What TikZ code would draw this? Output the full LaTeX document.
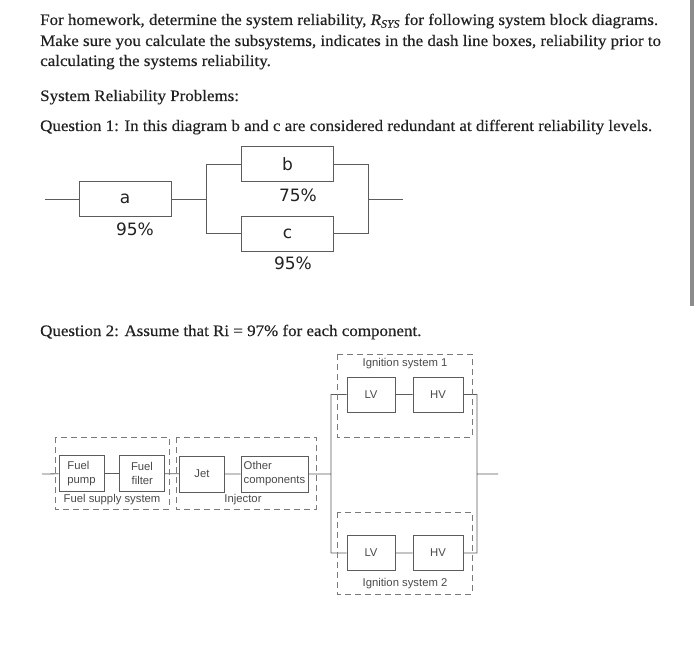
\documentclass[tikz,border=0pt]{standalone}
\usepackage{fontspec}
\setmainfont[FakeStretch=1.06,FakeBold=0.35]{Liberation Serif}
\newfontfamily\diagfont{DejaVu Sans}
\newfontfamily\blockfont{Liberation Sans}
\usetikzlibrary{positioning}
\definecolor{linegray}{HTML}{5C5C5C}
\definecolor{dashgray}{HTML}{7A7A7A}
\definecolor{inkgray}{HTML}{222222}
\definecolor{tagink}{HTML}{4A4A4A}

\begin{document}
\begin{tikzpicture}[x=1pt,y=-1pt,
        txt/.style={anchor=base west,inner sep=0pt,text=inkgray,font=\fontsize{16}{19}\selectfont},
        blk/.style={draw=linegray,line width=0.8pt,minimum width=92pt,minimum height=35pt,inner sep=0pt,
          text=inkgray,font=\diagfont\fontsize{17}{20}\selectfont},
        pct/.style={inner sep=0pt,text=inkgray,font=\diagfont\fontsize{17}{20}\selectfont},
        part/.style={draw=linegray,line width=0.8pt,minimum width=45pt,minimum height=36pt,inner sep=1pt,
          text=tagink,font=\blockfont\fontsize{11.3}{14}\selectfont},
        grp/.style={draw=dashgray,line width=0.9pt,dash pattern=on 6pt off 4pt},
        tag/.style={inner sep=0pt,text=tagink,font=\blockfont\fontsize{11.3}{14}\selectfont},
        wire/.style={draw=linegray,line width=0.8pt}]
      \useasboundingbox (0,0) rectangle (700,644);
      \fill[white] (0,0) rectangle (700,644);
      % scroll bar
      \fill[gray!90] (690,0) rectangle (694,306);

      % text of the task
      \node[txt] (l1) at (40,25) {For homework, determine the system reliability, \textit{R\textsubscript{SYS}} for following system block diagrams.};
      \node[txt] (l2) at (40,46) {Make sure you calculate the subsystems, indicates in the dash line boxes, reliability prior to};
      \node[txt] (l3) at (40,66) {calculating the systems reliability.};
      \node[txt] (l4) at (40,101) {System Reliability Problems:};
      \node[txt] (q1) at (40,131) {Question 1: In this diagram b and c are considered redundant at different reliability levels.};
      \node[txt] (q2) at (40,336) {Question 2: Assume that Ri = 97\% for each component.};

      % question 1
      \node[blk] (a) at (125,199) {a};
      \node[blk] (b) at (287.5,164) {b};
      \node[blk] (c) at (287.5,233.5) {c};
      \node[pct] (ra) at (135,229) {95\%};
      \node[pct] (rb) at (298,195) {75\%};
      \node[pct] (rc) at (293,263) {95\%};
      \coordinate (in1) at (45,199);
      \coordinate (s1) at (206,199);
      \coordinate (m1) at (368,199);
      \coordinate (out1) at (403,199);
      \path[wire] (in1) -- (a) (a) -- (s1)
        (s1) |- (b) (s1) |- (c)
        (b) -| (m1) (c) -| (m1)
        (m1) -- (out1);

      % question 2
      \node[part,align=left] (pump) at (81.5,473.5) {Fuel\\pump};
      \node[part,align=right] (filter) at (142,473.5) {Fuel\\filter};
      \node[part] (jet) at (202,474) {Jet};
      \node[part,minimum width=67pt,align=left] (other) at (274.5,474) {Other\\components};
      \node[part,minimum width=48pt,minimum height=35pt] (lv1) at (371,394.5) {LV};
      \node[part,minimum width=50pt,minimum height=35pt] (hv1) at (438,394.5) {HV};
      \node[part,minimum width=48pt,minimum height=35pt] (lv2) at (371,553) {LV};
      \node[part,minimum width=50pt,minimum height=35pt] (hv2) at (438,553) {HV};
      \coordinate (in2) at (42,474);
      \coordinate (s2) at (331,474);
      \coordinate (m2) at (477,474);
      \coordinate (out2) at (498,474);
      \path[wire] (in2) -- (pump) (pump) -- (filter) (filter) -- (jet)
        (jet) -- (other) (other) -- (s2)
        (s2) |- (lv1) (s2) |- (lv2)
        (lv1) -- (hv1) (lv2) -- (hv2)
        (hv1) -| (m2) (hv2) -| (m2)
        (m2) -- (out2);

      % subsystems
      \draw[grp] (55,437) rectangle (169,509);
      \draw[grp] (176,437) rectangle (316,509);
      \draw[grp] (337,354) rectangle (472,437);
      \draw[grp] (337,512) rectangle (472,594);
      \node[tag] (fss) at (112,500) {Fuel supply system};
      \node[tag] (inj) at (243,500) {Injector};
      \node[tag] (ig1) at (405,364) {Ignition system 1};
      \node[tag] (ig2) at (405,584) {Ignition system 2};
    \end{tikzpicture}
\end{document}
